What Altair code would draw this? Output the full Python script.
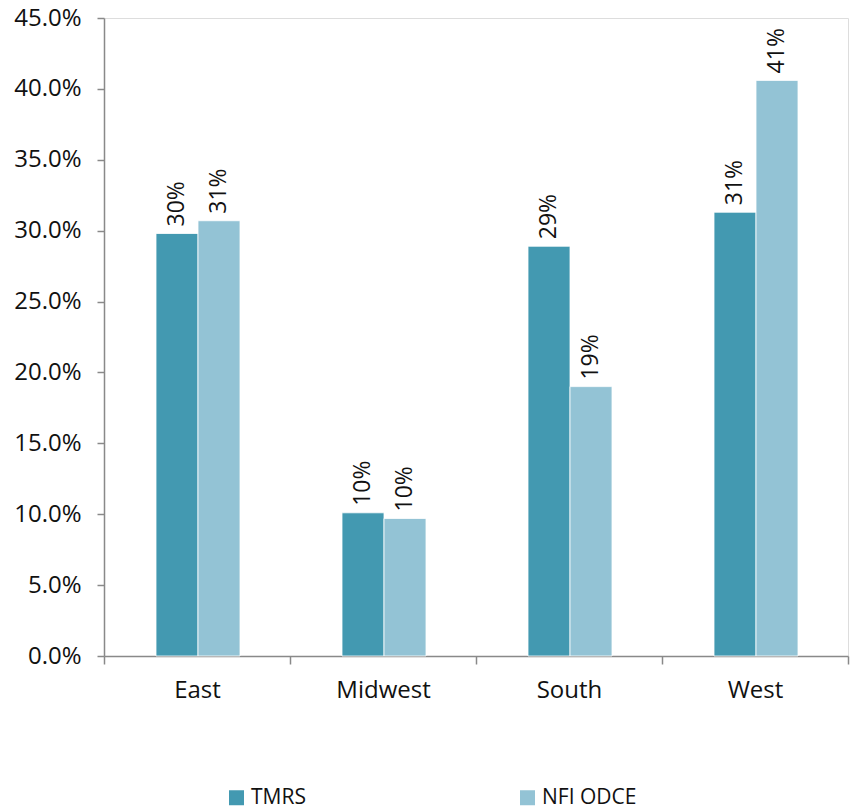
import altair as alt
import pandas as pd

# Regional allocation, TMRS vs NFI ODCE
regions = ["East", "Midwest", "South", "West"]
series = ["TMRS", "NFI ODCE"]
tmrs = [0.298, 0.101, 0.289, 0.313]
nfi = [0.307, 0.097, 0.190, 0.406]
colors = ["#4399B1", "#93C3D5"]

rows = []
for r, a, b in zip(regions, tmrs, nfi):
    rows.append({"region": r, "series": series[0], "value": a})
    rows.append({"region": r, "series": series[1], "value": b})
df = pd.DataFrame(rows)

FONT = "Open Sans"
# pair of bars occupies the middle of each category slot (slot is 186 px wide)
PAIR_RANGE = [52, 136]

x = alt.X(
    "region:N",
    sort=regions,
    title=None,
    scale=alt.Scale(paddingInner=0, paddingOuter=0),
    axis=alt.Axis(
        labelAngle=0,
        labelFontSize=24,
        labelColor="#111111",
        labelFont=FONT,
        labelPadding=14,
        tickBand="extent",
        tickSize=8,
        tickColor="#898989",
        domainColor="#898989",
        domainWidth=1.5,
        tickWidth=1.5,
    ),
)
xoff = alt.XOffset(
    "series:N",
    sort=series,
    scale=alt.Scale(range=PAIR_RANGE, paddingInner=0, paddingOuter=0),
)
y = alt.Y(
    "value:Q",
    title=None,
    scale=alt.Scale(domain=[0, 0.45], nice=False),
    axis=alt.Axis(
        format=".1%",
        values=[i * 0.05 for i in range(10)],
        labelFontSize=24,
        labelColor="#111111",
        labelFont=FONT,
        labelPadding=16,
        grid=False,
        tickSize=7,
        tickColor="#898989",
        domainColor="#898989",
        domainWidth=1.5,
        tickWidth=1.5,
    ),
)

color = alt.Color(
    "series:N",
    sort=series,
    scale=alt.Scale(domain=series, range=colors),
    legend=alt.Legend(
        title=None,
        orient="none",
        legendX=122,
        legendY=769,
        direction="horizontal",
        columns=2,
        columnPadding=211,
        symbolType="square",
        symbolSize=225,
        symbolStrokeWidth=0,
        labelFontSize=21,
        labelFont=FONT,
        labelColor="#111111",
        labelOffset=4,
    ),
)

bars = alt.Chart(df).mark_bar(stroke="white", strokeWidth=0.8).encode(
    x=x, xOffset=xoff, y=y, color=color
)

labels = alt.Chart(df).mark_text(
    angle=270,
    align="left",
    baseline="middle",
    dx=7,
    fontSize=23,
    font=FONT,
    color="#111111",
).encode(
    x=alt.X("region:N", sort=regions),
    xOffset=alt.XOffset("series:N", sort=series),
    y="value:Q",
    text=alt.Text("value:Q", format=".0%"),
)

chart = (
    alt.layer(bars, labels)
    .properties(
        width=744,
        height=638,
        padding={"left": 104, "top": 18, "right": 2, "bottom": 155},
        autosize=alt.AutoSizeParams(type="none"),
    )
    .configure_view(stroke=None)
    .configure(background="white")
)

chart.save("out.html", embed_options={"renderer": "svg", "actions": False})
